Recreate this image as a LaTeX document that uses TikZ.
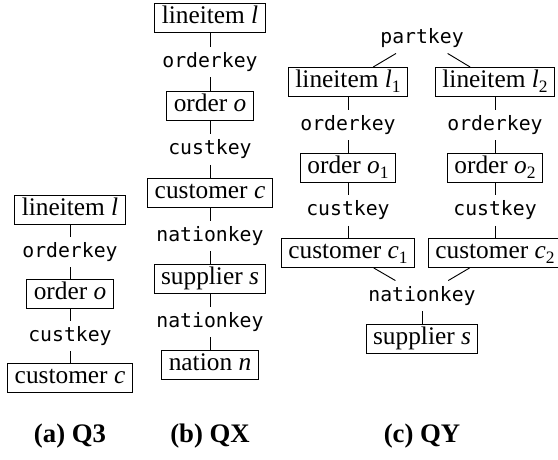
\documentclass[tikz,border=0pt]{standalone}
\usepackage{fontspec}
\setmainfont{Liberation Serif}
\setmonofont{DejaVu Sans Mono}
\newcommand{\sub}[1]{\raisebox{-0.35ex}{\fontsize{7.5}{8}\selectfont #1}}
\begin{document}
\begin{tikzpicture}[x=0.43pt,y=-0.43pt,
    rel/.style={draw, font=\fontsize{10.9}{12}\selectfont, inner xsep=3pt, inner ysep=1.2pt, text height=7.6pt, text depth=2.5pt},
    key/.style={font=\fontsize{8.5}{10}\selectfont\ttfamily, inner xsep=2pt, inner ysep=1.2pt, text height=7.5pt, text depth=3pt},
    subcap/.style={font=\fontsize{11.5}{13}\selectfont\bfseries}]
    \useasboundingbox (0,0) rectangle (558,459);

    % (a) Q3
    \node[rel] (al) at (70,210) {lineitem \textit{l}};
    \node[key] (aok) at (70,252) {orderkey};
    \node[rel] (ao) at (70,294) {order \textit{o}};
    \node[key] (ack) at (70,336) {custkey};
    \node[rel] (ac) at (70,378) {customer \textit{c}};

    % (b) QX
    \node[rel] (bl) at (210,18) {lineitem \textit{l}};
    \node[key] (bok) at (210,62) {orderkey};
    \node[rel] (bo) at (210,106) {order \textit{o}};
    \node[key] (bck) at (210,149.5) {custkey};
    \node[rel] (bc) at (210,193) {customer \textit{c}};
    \node[key] (bnk) at (210,236) {nationkey};
    \node[rel] (bs) at (210,279) {supplier \textit{s}};
    \node[key] (bnk2) at (210,322) {nationkey};
    \node[rel] (bn) at (210,365) {nation \textit{n}};

    % (c) QY
    \node[key] (cpk) at (422,38) {partkey};
    \node[rel] (cl1) at (348,82) {lineitem \textit{l}\sub{1}};
    \node[rel] (cl2) at (495,82) {lineitem \textit{l}\sub{2}};
    \node[key] (cok1) at (348,125) {orderkey};
    \node[key] (cok2) at (495,125) {orderkey};
    \node[rel] (co1) at (348,168) {order \textit{o}\sub{1}};
    \node[rel] (co2) at (495,168) {order \textit{o}\sub{2}};
    \node[key] (cck1) at (348,210.5) {custkey};
    \node[key] (cck2) at (495,210.5) {custkey};
    \node[rel] (cc1) at (348,253) {customer \textit{c}\sub{1}};
    \node[rel] (cc2) at (495,253) {customer \textit{c}\sub{2}};
    \node[key] (cnk) at (422,296) {nationkey};
    \node[rel] (cs) at (422,339) {supplier \textit{s}};

    % captions
    \node[subcap] (capa) at (70,436) {(a) Q3};
    \node[subcap] (capb) at (210,436) {(b) QX};
    \node[subcap] (capc) at (422,436) {(c) QY};

    % Draw the edges
    \draw (al) -- (aok) -- (ao) -- (ack) -- (ac);
    \draw (bl) -- (bok) -- (bo) -- (bck) -- (bc) -- (bnk) -- (bs) -- (bnk2) -- (bn);
    \draw (cpk) -- (cl1);
    \draw (cpk) -- (cl2);
    \draw (cl1) -- (cok1) -- (co1) -- (cck1) -- (cc1);
    \draw (cl2) -- (cok2) -- (co2) -- (cck2) -- (cc2);
    \draw (cc1) -- (cnk);
    \draw (cc2) -- (cnk);
    \draw (cnk) -- (cs);
\end{tikzpicture}
\end{document}
